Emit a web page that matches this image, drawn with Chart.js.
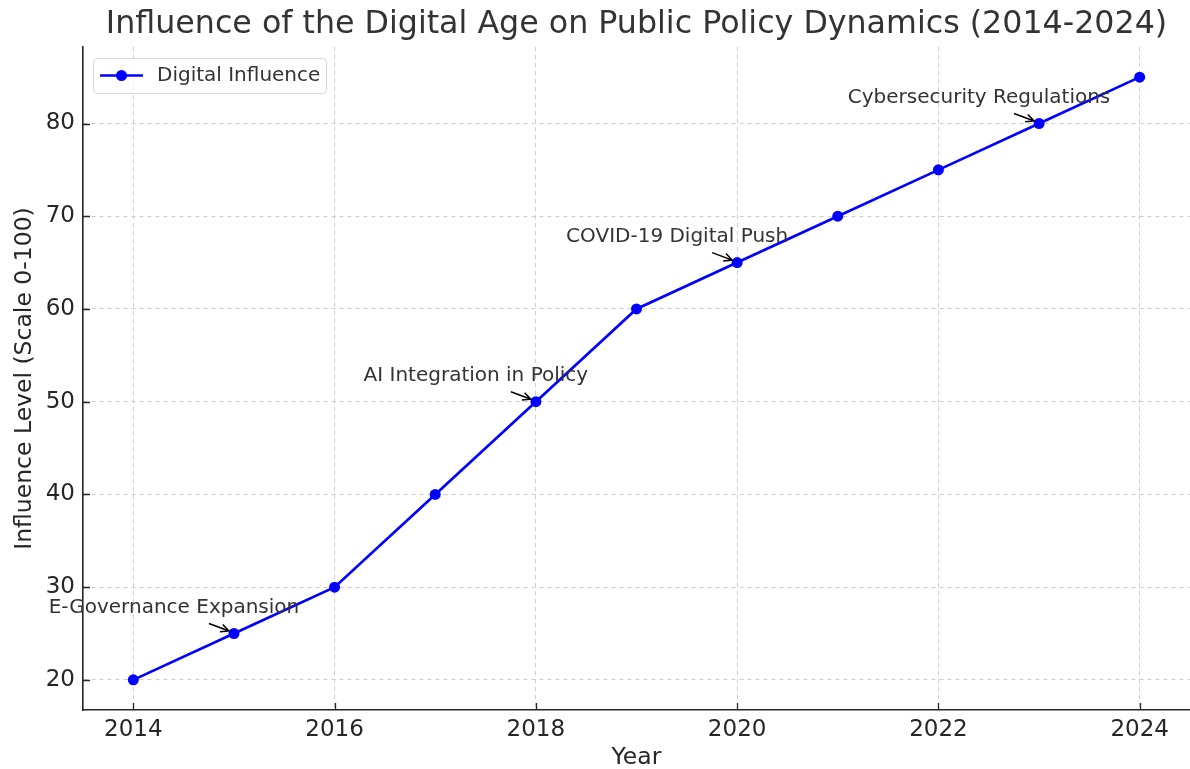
<!DOCTYPE html>
<html>
<head>
<meta charset="utf-8">
<title>Influence of the Digital Age on Public Policy Dynamics</title>
<script src="https://cdn.jsdelivr.net/npm/chart.js@4/dist/chart.umd.min.js"></script>
<style>
    html, body { margin: 0; padding: 0; background: #ffffff; }
    #wrap { width: 1190px; height: 769px; }
</style>
</head>
<body>
<div id="wrap"><canvas id="chart" width="1190" height="769"></canvas></div>
<script>
"use strict";

// Data
var years = [2014, 2015, 2016, 2017, 2018, 2019, 2020, 2021, 2022, 2023, 2024];
var influence = [20, 25, 30, 40, 50, 60, 65, 70, 75, 80, 85];
var xTickYears = [2014, 2016, 2018, 2020, 2022, 2024];
var yTickValues = [20, 30, 40, 50, 60, 70, 80];
var noteYears = [2015, 2018, 2020, 2023];
var noteLabels = ['E-Governance Expansion', 'AI Integration in Policy', 'COVID-19 Digital Push', 'Cybersecurity Regulations'];

var FONT = "'DejaVu Sans', 'Liberation Sans', sans-serif";
var LINE_BLUE = '#0000ff';

Chart.defaults.font.family = FONT;

// Draws inward tick marks, axis titles, annotations and the legend box
var decorPlugin = {
    id: 'decor',
    afterDraw: function (chart) {
        var ctx = chart.ctx;
        var area = chart.chartArea;
        var xs = chart.scales.x;
        var ys = chart.scales.y;

        ctx.save();

        // inward ticks
        ctx.strokeStyle = '#262626';
        ctx.lineWidth = 1.3;
        ctx.beginPath();
        xs.ticks.forEach(function (t) {
            var px = Math.round(xs.getPixelForValue(t.value)) + 0.5;
            ctx.moveTo(px, area.bottom);
            ctx.lineTo(px, area.bottom - 7);
        });
        ys.ticks.forEach(function (t) {
            var py = Math.round(ys.getPixelForValue(t.value)) + 0.5;
            ctx.moveTo(area.left, py);
            ctx.lineTo(area.left + 7, py);
        });
        ctx.stroke();

        // axis titles
        ctx.fillStyle = '#262626';
        ctx.font = '23.5px ' + FONT;
        ctx.textAlign = 'center';
        ctx.textBaseline = 'middle';
        ctx.fillText('Year', (area.left + area.right) / 2, 758);
        ctx.save();
        ctx.translate(24.5, (area.top + area.bottom) / 2);
        ctx.rotate(-Math.PI / 2);
        ctx.fillText('Influence Level (Scale 0-100)', 0, 0);
        ctx.restore();

        // annotations with arrows
        ctx.font = '20px ' + FONT;
        noteYears.forEach(function (yr, i) {
            var val = influence[years.indexOf(yr)];
            var px = xs.getPixelForValue(yr);
            var py = ys.getPixelForValue(val);
            ctx.fillStyle = '#333333';
            ctx.textAlign = 'center';
            ctx.textBaseline = 'middle';
            ctx.fillText(noteLabels[i], px - 60, py - 26);

            var sx = px - 25, sy = py - 10;
            var ex = px - 5, ey = py - 2.5;
            var ang = Math.atan2(ey - sy, ex - sx);
            var head = 9;
            ctx.strokeStyle = '#000000';
            ctx.lineWidth = 1.5;
            ctx.beginPath();
            ctx.moveTo(sx, sy);
            ctx.lineTo(ex, ey);
            ctx.moveTo(ex - head * Math.cos(ang - 0.45), ey - head * Math.sin(ang - 0.45));
            ctx.lineTo(ex, ey);
            ctx.lineTo(ex - head * Math.cos(ang + 0.45), ey - head * Math.sin(ang + 0.45));
            ctx.stroke();
        });

        // legend
        var lx = 93.5, ly = 58.5, lw = 233, lh = 35;
        ctx.fillStyle = 'rgba(255,255,255,0.8)';
        ctx.strokeStyle = '#d6d6d6';
        ctx.lineWidth = 1;
        ctx.beginPath();
        ctx.roundRect(lx, ly, lw, lh, 4);
        ctx.fill();
        ctx.stroke();

        ctx.strokeStyle = LINE_BLUE;
        ctx.lineWidth = 2.5;
        ctx.beginPath();
        ctx.moveTo(100, 75.5);
        ctx.lineTo(143, 75.5);
        ctx.stroke();
        ctx.fillStyle = LINE_BLUE;
        ctx.beginPath();
        ctx.arc(121.5, 75.5, 5.5, 0, Math.PI * 2);
        ctx.fill();

        ctx.fillStyle = '#333333';
        ctx.font = '20px ' + FONT;
        ctx.textAlign = 'left';
        ctx.textBaseline = 'middle';
        ctx.fillText(chart.data.datasets[0].label, 157, 76);

        ctx.restore();
    }
};

var points = years.map(function (yr, i) {
    return { x: yr, y: influence[i] };
});

var config = {
    type: 'line',
    data: {
        datasets: [{
            label: 'Digital Influence',
            data: points,
            borderColor: LINE_BLUE,
            backgroundColor: LINE_BLUE,
            borderWidth: 2.7,
            pointRadius: 5.5,
            pointHoverRadius: 5.5,
            pointBorderWidth: 0,
            tension: 0,
            fill: false
        }]
    },
    options: {
        responsive: false,
        animation: false,
        devicePixelRatio: 1,
        layout: { autoPadding: false, padding: { left: 0, right: 0, top: 0, bottom: 0 } },
        scales: {
            x: {
                type: 'linear',
                min: 2013.5,
                max: 2024.5,
                afterBuildTicks: function (scale) {
                    scale.ticks = xTickYears.map(function (v) { return { value: v }; });
                },
                afterFit: function (scale) {
                    scale.height = 59;
                    scale.paddingLeft = 0;
                    scale.paddingRight = 0;
                },
                grid: {
                    color: '#cccccc',
                    lineWidth: 1,
                    drawTicks: false
                },
                border: {
                    display: true,
                    color: '#262626',
                    width: 1.6,
                    dash: [4, 4]
                },
                ticks: {
                    padding: 6,
                    color: '#262626',
                    font: { size: 23 },
                    maxRotation: 0,
                    callback: function (value) { return String(value); }
                }
            },
            y: {
                type: 'linear',
                min: 16.75,
                max: 88.25,
                afterBuildTicks: function (scale) {
                    scale.ticks = yTickValues.map(function (v) { return { value: v }; });
                },
                afterFit: function (scale) {
                    scale.width = 83;
                    scale.paddingTop = 0;
                    scale.paddingBottom = 0;
                },
                grid: {
                    color: '#cccccc',
                    lineWidth: 1,
                    drawTicks: false
                },
                border: {
                    display: true,
                    color: '#262626',
                    width: 1.6,
                    dash: [4, 4]
                },
                ticks: {
                    padding: 8,
                    color: '#262626',
                    font: { size: 23 },
                    callback: function (value) { return String(value); }
                }
            }
        },
        plugins: {
            legend: { display: false },
            tooltip: { enabled: false },
            title: {
                display: true,
                fullSize: false,
                text: 'Influence of the Digital Age on Public Policy Dynamics (2014-2024)',
                color: '#333333',
                font: { size: 31.7, weight: 'normal' },
                padding: { top: 6, bottom: 2.96 }
            }
        }
    },
    plugins: [decorPlugin]
};

var ctx = document.getElementById('chart').getContext('2d');
new Chart(ctx, config);
</script>
</body>
</html>
